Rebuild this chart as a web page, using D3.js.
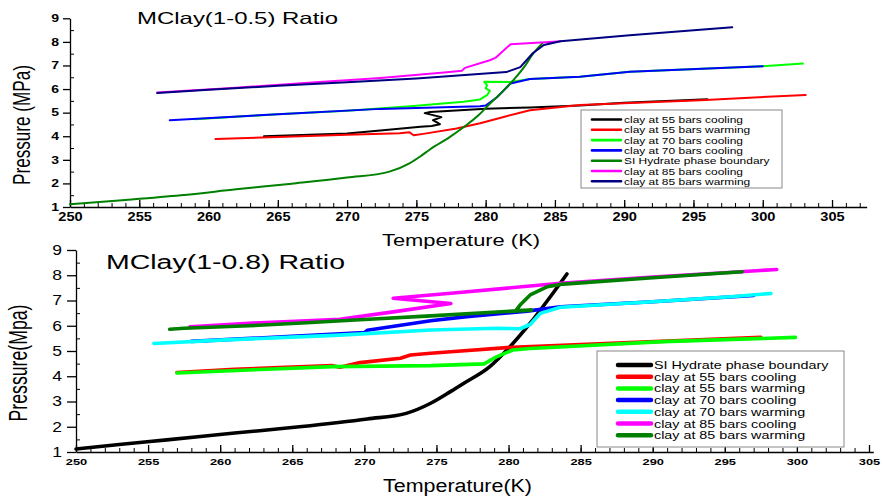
<!DOCTYPE html>
<html><head><meta charset="utf-8">
<script src="https://cdn.jsdelivr.net/npm/d3@7"></script>
<style>
body{margin:0;background:#fff}
svg{display:block}
text{font-family:"Liberation Sans",Arial,Helvetica,sans-serif;fill:#000}
</style></head>
<body><svg id="c" width="883" height="498"></svg>
<script>
// ---------- DATA ----------
const topTitle = "MClay(1-0.5) Ratio";
const botTitle = "MClay(1-0.8) Ratio";
const xTicksMajor = [250,255,260,265,270,275,280,285,290,295,300,305];
const yTicksMajor = [1,2,3,4,5,6,7,8,9];

// top chart series [T(K), P(MPa)]
const t55cool = [[264,4.0],[270,4.12],[272.4,4.24],[275.3,4.4],[276.1,4.43],[276.7,4.51],[276.2,4.68],[276.8,4.81],[275.6,4.98],[276.0,5.03],[280,5.17],[283.2,5.22],[286.8,5.3],[290,5.42],[296,5.57]];
const t55warm = [[260.5,3.88],[265,3.97],[270,4.06],[273.8,4.13],[274.5,4.17],[274.8,4.04],[275.5,4.1],[277.9,4.33],[279.6,4.55],[281.5,4.85],[283.2,5.1],[286.8,5.32],[295.5,5.53],[303.1,5.75]];
const t70coolA = [[259,4.72],[265,4.93],[270,5.08],[274.8,5.28],[278.4,5.46],[279.6,5.56],[280.1,5.74],[280.3,5.93],[280.0,6.03],[280.1,6.17],[279.9,6.31],[281.8,6.3],[283.2,6.43],[286.8,6.52],[290.4,6.73],[300,6.97],[302.9,7.08]];
const t70coolB = [[257.2,4.68],[265,4.93],[272.4,5.16],[279.6,5.27],[280,5.3],[280.8,5.64],[281.8,6.24],[283.2,6.43],[286.8,6.52],[290.4,6.73],[300,6.97]];
const tHydrate = [[250,1.12],[254,1.3],[258,1.5],[262,1.75],[266,1.99],[270,2.25],[273,2.49],[274.5,2.85],[275.3,3.15],[276,3.45],[277.4,3.96],[278.4,4.38],[279.5,4.9],[280.3,5.38],[281.2,5.88],[282,6.38],[282.8,6.95],[283.4,7.48],[284.1,7.95]];
const t85cool = [[256.3,5.85],[262,6.06],[268,6.3],[272.4,6.47],[277,6.7],[278.3,6.78],[278.5,6.9],[280.3,7.22],[280.7,7.32],[281.8,7.9],[284.9,8.01],[285.4,8.03]];
const t85warm = [[256.3,5.83],[260,5.97],[265,6.14],[270,6.29],[275,6.45],[281.5,6.72],[282.5,6.93],[283.4,7.52],[284.2,7.87],[285.4,8.03],[290.4,8.28],[297.8,8.62]];

const topLabels = ["clay at 55 bars cooling","clay at 55 bars warming","clay at 70 bars cooling","clay at 70 bars cooling","SI Hydrate phase boundary","clay at 85 bars cooling","clay at 85 bars warming"];
const topColors = ["#000000","#ff0000","#00ff00","#0000ff","#008000","#ff00ff","#000080"];
const topSeries = [t55cool,t55warm,t70coolA,t70coolB,tHydrate,t85cool,t85warm];

// bottom chart series
const bHydrate = [[250,1.12],[253,1.3],[256.3,1.48],[261,1.75],[265.5,2.0],[270.2,2.31],[272.9,2.53],[274.6,2.93],[276,3.4],[276.9,3.72],[278.7,4.38],[280.1,5.17],[281.5,6.1],[282.9,7.15],[284.05,8.05]];
const b55cool = [[257,4.15],[261,4.28],[265,4.36],[267.8,4.42],[268.3,4.36],[269.7,4.54],[272.5,4.71],[273.2,4.84],[274.6,4.91],[276,4.97],[280.3,5.15],[288.4,5.33],[297.5,5.54]];
const b55warm = [[257,4.13],[262,4.25],[267.8,4.38],[274.6,4.42],[278.3,4.49],[279.2,4.78],[280.3,5.04],[281.5,5.1],[290.7,5.37],[299.9,5.54]];
const b70cool = [[258,5.38],[265,5.58],[270,5.73],[270.2,5.82],[274.6,6.2],[277.1,6.36],[281.3,6.58],[283.6,6.75],[290,6.95],[297,7.2]];
const b70warm = [[255.4,5.3],[260,5.43],[265,5.55],[268.3,5.63],[274.6,5.83],[279.2,5.9],[280.8,5.88],[281.5,6.05],[282.2,6.49],[283.6,6.73],[290,6.95],[295.4,7.15],[298.2,7.28]];
const b85cool = [[257.9,5.96],[262,6.1],[266,6.2],[268.3,6.26],[272,6.55],[276,6.88],[272,7.09],[276,7.29],[283.6,7.68],[290,7.93],[296.1,8.14],[298.6,8.23]];
const b85warm = [[256.5,5.86],[257.5,5.9],[262,6.0],[266,6.12],[270,6.25],[274.6,6.39],[280.3,6.58],[281.6,6.62],[280.5,6.6],[280.8,6.82],[281.5,7.22],[282.7,7.55],[283.8,7.65],[290,7.9],[296.2,8.14]];

const botLabels = ["SI Hydrate phase boundary","clay at 55 bars cooling","clay at 55 bars warming","clay at 70 bars cooling","clay at 70 bars warming","clay at 85 bars cooling","clay at 85 bars warming"];
const botColors = ["#000000","#ff0000","#00ff00","#0000ff","#00ffff","#ff00ff","#008000"];
const botSeries = [bHydrate,b55cool,b55warm,b70cool,b70warm,b85cool,b85warm];
const smoothSeries = [tHydrate, bHydrate];

// ---------- DRAW ----------
const svg = d3.select("#c");
function fit(sel, w){ sel.attr("textLength", w).attr("lengthAdjust","spacingAndGlyphs"); }
function stretch(sel, k){ sel.each(function(){ const w=this.getComputedTextLength(); d3.select(this).attr("textLength", w*k).attr("lengthAdjust","spacingAndGlyphs"); }); }

function panel(o){
  const x = d3.scaleLinear().domain([250,o.xMax]).range([o.x0, o.x0 + (o.xMax-250)*o.pxK]);
  const y = d3.scaleLinear().domain([1,9]).range([o.yBot,o.yTop]);
  const g = svg.append("g");

  g.append("g").attr("transform",`translate(0,${o.yBot})`)
    .call(d3.axisBottom(x).tickValues(d3.range(250, Math.floor(o.xMax)+1, 1)).tickSizeInner(-4).tickSizeOuter(0).tickFormat(""))
    .call(s=>s.select(".domain").remove());
  const xa = g.append("g").attr("transform",`translate(0,${o.yBot})`)
    .call(d3.axisBottom(x).tickValues(xTicksMajor).tickSizeInner(-7).tickSizeOuter(0).tickPadding(o.xPad));
  xa.select(".domain").attr("stroke","#000").attr("stroke-width",1.3);
  xa.selectAll(".tick line").attr("stroke-width",1.3);
  xa.selectAll("text").attr("font-size",o.xFont).attr("font-weight","bold").attr("font-family",null).attr("fill","#000").call(stretch,o.xK);

  g.append("g").attr("transform",`translate(${o.x0},0)`)
    .call(d3.axisLeft(y).tickValues(d3.range(1.5,9,1)).tickSizeInner(-4).tickSizeOuter(0).tickFormat(""))
    .call(s=>s.select(".domain").remove());
  const ya = g.append("g").attr("transform",`translate(${o.x0},0)`)
    .call(d3.axisLeft(y).tickValues(yTicksMajor).tickSizeInner(o.yTick).tickSizeOuter(0).tickPadding(o.yPad));
  ya.select(".domain").attr("stroke","#000").attr("stroke-width",1.3);
  ya.selectAll(".tick line").attr("stroke-width",1.3);
  ya.selectAll("text").attr("font-size",o.yFont).attr("font-weight",o.yBold?"bold":"normal").attr("font-family",null).attr("fill","#000").call(stretch,o.yK);

  const line = d3.line().x(d=>x(d[0])).y(d=>y(d[1]));
  const smooth = d3.line().x(d=>x(d[0])).y(d=>y(d[1])).curve(d3.curveMonotoneX);
  o.series.forEach((s,i)=>{
    g.append("path").datum(s).attr("d", smoothSeries.includes(s) ? smooth : line).attr("fill","none")
      .attr("stroke",o.colors[i]).attr("stroke-width",o.lw)
      .attr("stroke-linejoin","round").attr("stroke-linecap","round");
  });

  const L = o.leg;
  g.append("rect").attr("x",L.x).attr("y",L.y).attr("width",L.w).attr("height",L.h)
    .attr("fill","#fff").attr("stroke","#888").attr("stroke-width",1);
  o.labels.forEach((lab,i)=>{
    const cy = L.row0 + i*L.dy;
    g.append("line").attr("x1",L.lx1).attr("x2",L.lx2).attr("y1",cy).attr("y2",cy)
      .attr("stroke",o.colors[i]).attr("stroke-width",L.lw).attr("stroke-linecap","round");
    g.append("text").attr("x",L.tx).attr("y",cy+L.fs*0.36).attr("font-size",L.fs).text(lab).call(stretch,L.k);
  });

  g.append("text").attr("x",o.title.x).attr("y",o.title.y).attr("font-size",o.title.fs).text(o.title.t).call(fit,o.title.w);
  g.append("text").attr("x",o.xl.x).attr("y",o.xl.y).attr("font-size",o.xl.fs).text(o.xl.t).call(fit,o.xl.w);
  g.append("text").attr("transform",`translate(${o.yl.x},${o.yl.y}) rotate(-90)`).attr("text-anchor","middle")
    .attr("font-size",o.yl.fs).text(o.yl.t).call(fit,o.yl.w);
}

panel({
  x0:70, pxK:13.855, xMax:307.5, yBot:207, yTop:18.3,
  xFont:13.5, xK:1.08, xPad:4, yFont:10, yK:1.4, yBold:true, yTick:7, yPad:4,
  series:topSeries, colors:topColors, labels:topLabels, lw:2,
  leg:{x:581,y:110,w:201,h:78,row0:119.5,dy:10.3,lx1:592,lx2:621,tx:624,fs:9.8,k:1.22,lw:2.6},
  title:{t:topTitle,x:137,y:24,fs:16.5,w:201},
  xl:{t:"Temperature (K)",x:382,y:246,fs:16,w:158},
  yl:{t:"Pressure (MPa)",x:30,y:125,fs:24,w:120}
});
panel({
  x0:76, pxK:14.418, xMax:305.3, yBot:452, yTop:250,
  xFont:9.5, xK:1.35, xPad:6, yFont:14, yK:1.25, yBold:false, yTick:9, yPad:5,
  series:botSeries, colors:botColors, labels:botLabels, lw:3.6,
  leg:{x:597,y:351,w:247,h:96,row0:365,dy:11.7,lx1:618,lx2:651,tx:654,fs:11.2,k:1.28,lw:4.5},
  title:{t:botTitle,x:106,y:269,fs:20,w:239},
  xl:{t:"Temperature(K)",x:383,y:492,fs:18,w:149},
  yl:{t:"Pressure(Mpa)",x:27,y:363,fs:25,w:117}
});
</script></body></html>
